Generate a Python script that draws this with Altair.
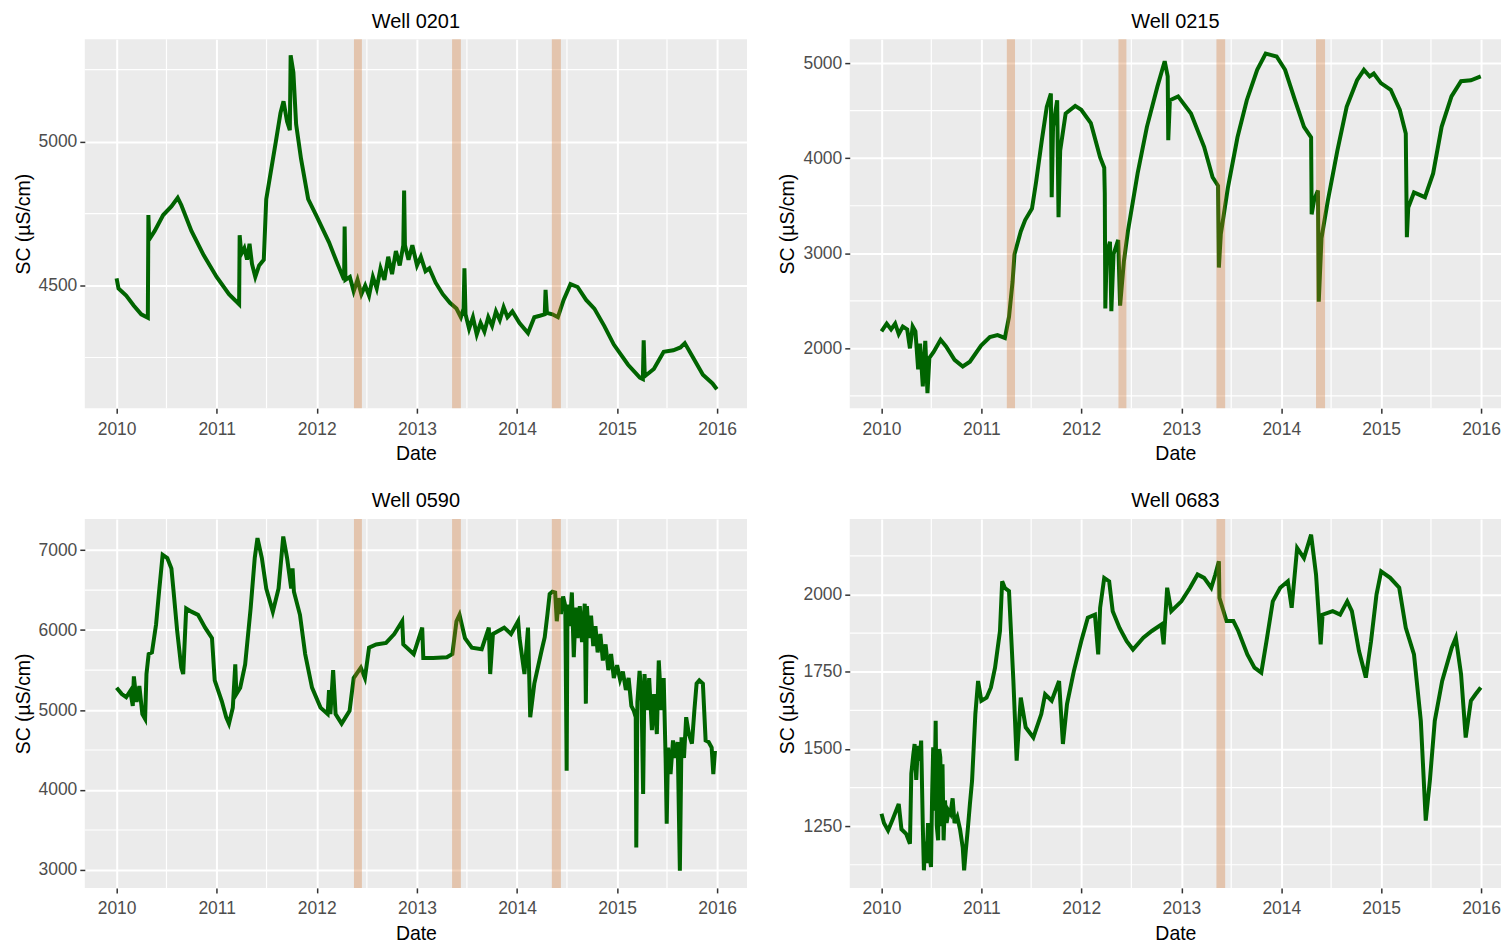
import altair as alt
import pandas as pd

FONT = "Liberation Sans"
GREEN = "#006400"
BAND = "#D2691E"
Y_TITLE = "SC (µS/cm)"

# ---------------- data ----------------
w0201_dates = [
    "2010-01-01", "2010-01-08", "2010-02-05", "2010-03-05", "2010-04-01", "2010-04-25", "2010-04-27", "2010-04-30",
    "2010-05-20", "2010-06-20", "2010-07-20", "2010-08-12", "2010-08-25", "2010-10-01", "2010-11-15", "2011-01-01",
    "2011-02-15", "2011-03-24", "2011-03-26", "2011-04-01", "2011-04-12", "2011-04-22", "2011-05-01", "2011-05-10",
    "2011-05-22", "2011-06-05", "2011-06-22", "2011-07-01", "2011-07-15", "2011-08-05", "2011-08-22", "2011-09-02",
    "2011-09-15", "2011-09-25", "2011-09-28", "2011-10-08", "2011-10-18", "2011-11-05", "2011-12-01", "2012-01-01",
    "2012-02-15", "2012-03-15", "2012-04-10", "2012-04-12", "2012-04-15", "2012-05-01", "2012-05-15", "2012-05-29",
    "2012-06-12", "2012-06-26", "2012-07-10", "2012-07-24", "2012-08-07", "2012-08-21", "2012-09-04", "2012-09-18",
    "2012-10-02", "2012-10-16", "2012-10-30", "2012-11-12", "2012-11-15", "2012-11-18", "2012-12-01", "2012-12-15",
    "2013-01-01", "2013-01-15", "2013-02-01", "2013-02-15", "2013-03-10", "2013-04-05", "2013-05-01", "2013-05-25",
    "2013-06-10", "2013-06-20", "2013-06-23", "2013-06-27", "2013-07-10", "2013-07-24", "2013-08-07", "2013-08-21",
    "2013-09-04", "2013-09-18", "2013-10-02", "2013-10-16", "2013-10-30", "2013-11-13", "2013-11-27", "2013-12-15",
    "2014-01-10", "2014-02-10", "2014-03-05", "2014-03-25", "2014-04-12", "2014-04-15", "2014-04-20", "2014-05-10",
    "2014-05-30", "2014-06-20", "2014-07-15", "2014-08-10", "2014-09-10", "2014-10-10", "2014-11-15", "2014-12-20",
    "2015-02-10", "2015-03-25", "2015-04-05", "2015-04-08", "2015-04-12", "2015-05-15", "2015-06-20", "2015-07-25",
    "2015-08-20", "2015-09-05", "2015-10-05", "2015-11-10", "2015-12-15", "2015-12-31",
]
w0201_sc = [
    4525, 4490, 4465, 4430, 4400, 4388, 4745, 4660,
    4690, 4745, 4775, 4805, 4780, 4690, 4605, 4530,
    4470, 4435, 4675, 4610, 4630, 4590, 4645, 4575,
    4530, 4570, 4590, 4800, 4880, 5000, 5100, 5140,
    5070, 5040, 5300, 5240, 5060, 4940, 4800, 4740,
    4650, 4580, 4520, 4705, 4520, 4530, 4480, 4520,
    4470, 4500, 4465, 4530, 4490, 4560, 4520, 4600,
    4540, 4620, 4570, 4640, 4830, 4640, 4590, 4640,
    4570, 4600, 4550, 4560, 4510, 4470, 4440, 4420,
    4390, 4420, 4560, 4400, 4350, 4390, 4330, 4370,
    4340, 4390, 4360, 4410, 4380, 4425, 4390, 4410,
    4370, 4335, 4390, 4395, 4400, 4485, 4405, 4400,
    4390, 4450, 4505, 4495, 4450, 4420, 4360, 4295,
    4225, 4180, 4175, 4310, 4185, 4210, 4270, 4275,
    4285, 4300, 4250, 4190, 4160, 4140,
]

w0215_dates = [
    "2010-01-01", "2010-01-20", "2010-02-05", "2010-02-20", "2010-03-05", "2010-03-20", "2010-04-05", "2010-04-15",
    "2010-04-25", "2010-05-05", "2010-05-15", "2010-05-22", "2010-06-01", "2010-06-10", "2010-06-18", "2010-06-25",
    "2010-07-10", "2010-08-05", "2010-08-25", "2010-09-25", "2010-10-25", "2010-11-20", "2010-12-31", "2011-02-01",
    "2011-03-01", "2011-03-28", "2011-04-12", "2011-04-25", "2011-05-02", "2011-05-25", "2011-06-10", "2011-07-05",
    "2011-07-20", "2011-08-10", "2011-08-28", "2011-09-12", "2011-09-15", "2011-09-20", "2011-10-05", "2011-10-10",
    "2011-10-16", "2011-11-05", "2011-12-10", "2012-01-01", "2012-02-05", "2012-03-10", "2012-03-25", "2012-03-27",
    "2012-03-29", "2012-04-03", "2012-04-15", "2012-04-20", "2012-04-28", "2012-05-15", "2012-05-22", "2012-06-05",
    "2012-06-20", "2012-07-25", "2012-08-28", "2012-10-05", "2012-11-01", "2012-11-12", "2012-11-14", "2012-11-20",
    "2012-12-20", "2013-02-05", "2013-03-25", "2013-04-25", "2013-05-15", "2013-05-18", "2013-05-25", "2013-06-20",
    "2013-07-25", "2013-08-28", "2013-10-05", "2013-11-05", "2013-12-15", "2014-01-15", "2014-02-20", "2014-03-25",
    "2014-04-20", "2014-04-22", "2014-05-01", "2014-05-15", "2014-05-18", "2014-05-28", "2014-06-20", "2014-07-25",
    "2014-08-28", "2014-10-05", "2014-10-30", "2014-11-20", "2014-12-05", "2014-12-31", "2015-02-05", "2015-03-10",
    "2015-04-01", "2015-04-05", "2015-04-10", "2015-05-01", "2015-06-10", "2015-07-10", "2015-08-10", "2015-09-15",
    "2015-10-20", "2015-11-25", "2015-12-31",
]
w0215_sc = [
    2180, 2260, 2200, 2260, 2150, 2230, 2200, 2000,
    2230, 2180, 1780, 2050, 1600, 2080, 1530, 1900,
    1960, 2090, 2020, 1880, 1810, 1860, 2030, 2120,
    2140, 2110, 2330, 2700, 2990, 3230, 3350, 3470,
    3750, 4190, 4540, 4680, 3590, 4330, 4610, 3380,
    4080, 4470, 4550, 4510, 4370, 4010, 3900, 3630,
    2420, 3000, 3120, 2390, 2990, 3140, 2450, 2920,
    3240, 3840, 4330, 4750, 5020, 4860, 4190, 4610,
    4650, 4470, 4120, 3800, 3710, 2850, 3200, 3690,
    4220, 4610, 4930, 5100, 5070, 4930, 4610, 4330,
    4220, 3410, 3560, 3660, 2490, 3160, 3550, 4080,
    4540, 4820, 4930, 4860, 4890, 4790, 4720, 4510,
    4260, 3170, 3480, 3640, 3590, 3840, 4330, 4650,
    4810, 4820, 4860,
]

w0590_dates = [
    "2010-01-01", "2010-01-20", "2010-02-05", "2010-02-20", "2010-03-01", "2010-03-05", "2010-03-15", "2010-03-25",
    "2010-04-05", "2010-04-15", "2010-04-20", "2010-04-28", "2010-05-10", "2010-05-25", "2010-06-05", "2010-06-18",
    "2010-07-05", "2010-07-20", "2010-07-28", "2010-08-10", "2010-08-25", "2010-09-01", "2010-09-12", "2010-10-01",
    "2010-10-25", "2010-11-20", "2010-12-15", "2010-12-25", "2011-01-20", "2011-02-05", "2011-02-15", "2011-03-01",
    "2011-03-10", "2011-03-14", "2011-03-28", "2011-04-15", "2011-05-05", "2011-05-20", "2011-05-30", "2011-06-15",
    "2011-07-01", "2011-07-25", "2011-08-15", "2011-09-01", "2011-09-15", "2011-09-30", "2011-10-05", "2011-10-10",
    "2011-11-01", "2011-11-20", "2011-12-15", "2012-01-15", "2012-02-10", "2012-02-15", "2012-02-20", "2012-03-01",
    "2012-03-10", "2012-04-01", "2012-04-30", "2012-05-15", "2012-06-10", "2012-06-25", "2012-07-10", "2012-08-05",
    "2012-09-10", "2012-10-10", "2012-11-08", "2012-11-12", "2012-12-20", "2013-01-20", "2013-01-24", "2013-03-01",
    "2013-04-20", "2013-05-10", "2013-05-25", "2013-06-05", "2013-06-25", "2013-07-20", "2013-08-25", "2013-09-20",
    "2013-09-25", "2013-10-05", "2013-11-15", "2013-12-10", "2014-01-05", "2014-01-10", "2014-01-28", "2014-02-10",
    "2014-02-18", "2014-03-05", "2014-04-01", "2014-04-12", "2014-04-22", "2014-04-30", "2014-05-10", "2014-05-20",
    "2014-05-26", "2014-06-02", "2014-06-10", "2014-06-18", "2014-06-26", "2014-07-01", "2014-07-04", "2014-07-12",
    "2014-07-20", "2014-07-27", "2014-08-03", "2014-08-10", "2014-08-18", "2014-08-26", "2014-09-05", "2014-09-09",
    "2014-09-13", "2014-09-20", "2014-09-28", "2014-10-06", "2014-10-14", "2014-10-22", "2014-11-01", "2014-11-10",
    "2014-11-20", "2014-11-30", "2014-12-10", "2014-12-20", "2015-01-01", "2015-01-12", "2015-01-22", "2015-02-02",
    "2015-02-12", "2015-02-22", "2015-03-03", "2015-03-10", "2015-03-12", "2015-03-16", "2015-03-24", "2015-03-31",
    "2015-04-06", "2015-04-11", "2015-04-20", "2015-04-28", "2015-05-08", "2015-05-16", "2015-05-26", "2015-06-02",
    "2015-06-12", "2015-06-20", "2015-06-27", "2015-07-01", "2015-07-06", "2015-07-15", "2015-07-24", "2015-08-02",
    "2015-08-10", "2015-08-18", "2015-08-24", "2015-09-02", "2015-09-10", "2015-09-20", "2015-10-01", "2015-10-10",
    "2015-10-18", "2015-10-28", "2015-11-10", "2015-11-20", "2015-12-01", "2015-12-12", "2015-12-18", "2015-12-24",
]
w0590_sc = [
    5280, 5200, 5160, 5240, 5050, 5420, 5100, 5300,
    4950, 4890, 5450, 5700, 5720, 6070, 6480, 6940,
    6900, 6770, 6480, 5990, 5530, 5450, 6270, 6230,
    6190, 6030, 5900, 5370, 5110, 4910, 4830, 5030,
    5570, 5200, 5280, 5570, 6270, 6900, 7150, 6900,
    6520, 6230, 6520, 7170, 6900, 6520, 6770, 6480,
    6190, 5700, 5280, 5030, 4950, 5250, 4950, 5500,
    4950, 4830, 4990, 5400, 5530, 5400, 5780, 5820,
    5840, 5950, 6110, 5820, 5700, 6030, 5650, 5650,
    5660, 5700, 6110, 6190, 5900, 5780, 5760, 6030,
    5450, 5950, 6030, 5950, 6110, 5900, 5450, 6030,
    4910, 5330, 5750, 5910, 6200, 6450, 6480, 6470,
    6110, 6400, 6200, 6420, 6300, 4240, 6320, 6050,
    6470, 5660, 6280, 5900, 6300, 5850, 6330, 5080,
    6300, 5900, 6180, 5800, 6050, 5720, 5950, 5620,
    5820, 5500, 5700, 5400, 5560, 5380, 5480, 5250,
    5400, 5050, 4990, 4910, 3280, 5100, 5490, 5200,
    3950, 5450, 5000, 5400, 4750, 5200, 4700, 5620,
    5000, 5400, 4400, 3580, 4530, 4200, 4620, 4400,
    4600, 2990, 4660, 4400, 4910, 4700, 4580, 5000,
    5330, 5370, 5330, 4620, 4600, 4530, 4200, 4490,
]

w0683_dates = [
    "2010-01-01", "2010-01-10", "2010-01-25", "2010-02-10", "2010-03-05", "2010-03-15", "2010-04-01", "2010-04-15",
    "2010-04-20", "2010-04-27", "2010-05-02", "2010-05-08", "2010-05-14", "2010-05-20", "2010-05-26", "2010-06-01",
    "2010-06-05", "2010-06-10", "2010-06-15", "2010-06-20", "2010-06-26", "2010-07-01", "2010-07-05", "2010-07-09",
    "2010-07-13", "2010-07-18", "2010-07-22", "2010-07-27", "2010-07-31", "2010-08-04", "2010-08-08", "2010-08-12",
    "2010-08-16", "2010-08-21", "2010-08-27", "2010-09-03", "2010-09-10", "2010-09-18", "2010-09-25", "2010-10-05",
    "2010-10-15", "2010-10-25", "2010-10-30", "2010-11-05", "2010-11-12", "2010-11-20", "2010-11-28", "2010-12-10",
    "2010-12-20", "2011-01-01", "2011-01-20", "2011-02-05", "2011-02-20", "2011-03-10", "2011-03-18", "2011-03-28",
    "2011-04-12", "2011-04-28", "2011-05-10", "2011-05-25", "2011-06-12", "2011-07-10", "2011-08-08", "2011-08-22",
    "2011-09-15", "2011-10-12", "2011-10-26", "2011-11-10", "2011-12-05", "2012-01-01", "2012-01-25", "2012-02-20",
    "2012-03-03", "2012-03-10", "2012-03-25", "2012-04-12", "2012-04-25", "2012-05-20", "2012-06-15", "2012-07-08",
    "2012-08-15", "2012-09-15", "2012-10-20", "2012-10-28", "2012-11-10", "2012-11-25", "2013-01-01", "2013-02-01",
    "2013-03-01", "2013-03-25", "2013-04-20", "2013-05-05", "2013-05-18", "2013-05-20", "2013-06-15", "2013-07-10",
    "2013-07-28", "2013-08-30", "2013-09-25", "2013-10-20", "2013-11-08", "2013-12-01", "2013-12-28", "2014-01-25",
    "2014-02-08", "2014-02-28", "2014-03-25", "2014-04-20", "2014-05-08", "2014-05-25", "2014-06-01", "2014-07-08",
    "2014-08-04", "2014-08-30", "2014-09-16", "2014-10-12", "2014-11-06", "2014-11-25", "2014-12-15", "2015-01-01",
    "2015-02-03", "2015-03-08", "2015-04-01", "2015-05-01", "2015-05-26", "2015-06-13", "2015-06-28", "2015-07-16",
    "2015-08-12", "2015-09-16", "2015-10-01", "2015-10-20", "2015-11-06", "2015-11-25", "2015-12-12", "2015-12-31",
]
w0683_sc = [
    1290, 1260, 1236, 1270, 1322, 1240, 1225, 1193,
    1420, 1480, 1516, 1400, 1510, 1462, 1527, 1250,
    1107, 1200, 1130, 1260, 1150, 1118, 1350, 1505,
    1300, 1591, 1250, 1204, 1500, 1473, 1250, 1450,
    1204, 1333, 1260, 1300, 1290, 1340, 1260, 1280,
    1240, 1180, 1107, 1170, 1236, 1320, 1397, 1613,
    1720, 1656, 1666, 1699, 1763, 1882, 2043, 2021,
    2011, 1720, 1462, 1666, 1570, 1537, 1613, 1677,
    1656, 1720, 1516, 1645, 1752, 1849, 1925, 1935,
    1806, 1957, 2054, 2043, 1946, 1892, 1849, 1822,
    1860, 1882, 1903, 1839, 2022, 1946, 1978, 2021,
    2065, 2054, 2022, 2065, 2108, 1989, 1914, 1914,
    1882, 1806, 1763, 1747, 1849, 1978, 2022, 2043,
    1957, 2151, 2118, 2194, 2065, 1839, 1935, 1946,
    1935, 1978, 1946, 1817, 1731, 1849, 2000, 2075,
    2054, 2022, 1892, 1806, 1591, 1268, 1397, 1591,
    1720, 1828, 1860, 1742, 1537, 1656, 1677, 1699,
]

# shaded periods
bands_a_start = ["2012-05-16", "2013-05-09", "2014-05-08"]
bands_a_end = ["2012-06-14", "2013-06-10", "2014-06-10"]
bands_b_start = ["2011-04-04", "2012-05-16", "2013-05-09", "2014-05-08"]
bands_b_end = ["2011-05-04", "2012-06-14", "2013-06-10", "2014-06-10"]
bands_c_start = ["2013-05-09"]
bands_c_end = ["2013-06-10"]

year_ticks = [2010, 2011, 2012, 2013, 2014, 2015, 2016]
minor_x = ["2010-07-02", "2011-07-02", "2012-07-02", "2013-07-02", "2014-07-02", "2015-07-02"]


def panel(title, dates, values, y_dom, y_major, y_minor, b_start, b_end, x_end, width):
    xs = alt.Scale(domain=[alt.DateTime(year=2009, month=9, date=7), x_end])
    ys = alt.Scale(domain=y_dom, nice=False, zero=False)
    x_axis = alt.Axis(values=[alt.DateTime(year=y, month=1, date=1) for y in year_ticks],
                      format="%Y", title="Date")
    y_axis = alt.Axis(values=y_major, format="d", title=Y_TITLE)

    vgrid = alt.Chart(pd.DataFrame({"date": minor_x})).mark_rule(
        color="white", strokeWidth=1.2).encode(x=alt.X("date:T", scale=xs, axis=x_axis))
    hgrid = alt.Chart(pd.DataFrame({"sc": y_minor})).mark_rule(
        color="white", strokeWidth=1.2).encode(y=alt.Y("sc:Q", scale=ys, axis=y_axis))
    line = alt.Chart(pd.DataFrame({"date": dates, "sc": values})).mark_line(
        color=GREEN, strokeWidth=4).encode(
        x=alt.X("date:T", scale=xs, axis=x_axis),
        y=alt.Y("sc:Q", scale=ys, axis=y_axis))
    bands = alt.Chart(pd.DataFrame({"date": b_start, "end": b_end})).mark_rect(
        color=BAND, opacity=0.3).encode(
        x=alt.X("date:T", scale=xs, axis=x_axis), x2="end:T")
    return alt.layer(vgrid, hgrid, line, bands).properties(
        width=width, height=370, title=title)


left_end = alt.DateTime(year=2016, month=4, date=19)
right_end = alt.DateTime(year=2016, month=3, date=14)

p1 = panel("Well 0201", w0201_dates, w0201_sc, [4074, 5356], [4500, 5000], [4250, 4750, 5250],
           bands_a_start, bands_a_end, left_end, 664)
p2 = panel("Well 0215", w0215_dates, w0215_sc, [1371, 5252], [2000, 3000, 4000, 5000], [1500, 2500, 3500, 4500],
           bands_b_start, bands_b_end, right_end, 653)
p3 = panel("Well 0590", w0590_dates, w0590_sc, [2776, 7390], [3000, 4000, 5000, 6000, 7000],
           [3500, 4500, 5500, 6500], bands_a_start, bands_a_end, left_end, 664)
p4 = panel("Well 0683", w0683_dates, w0683_sc, [1050, 2245], [1250, 1500, 1750, 2000],
           [1125, 1375, 1625, 1875, 2125], bands_c_start, bands_c_end, right_end, 653)

chart = alt.vconcat(
    alt.hconcat(p1, p2, spacing=30),
    alt.hconcat(p3, p4, spacing=30),
    spacing=28,
).properties(
    padding={"left": 5, "top": 2, "right": 0, "bottom": 0}
).configure_view(
    fill="#EBEBEB", stroke=None
).configure_axis(
    domain=False, grid=True, gridColor="white", gridWidth=2,
    tickColor="#333333", tickSize=5, tickWidth=1.5,
    labelColor="#4D4D4D", labelFont=FONT, labelFontSize=17.5,
    titleFont=FONT, titleFontSize=19.5, titleFontWeight="normal", titleColor="black",
).configure_axisX(
    labelPadding=7, titlePadding=7
).configure_axisY(
    labelPadding=3, titlePadding=5
).configure_title(
    font=FONT, fontSize=20, fontWeight="normal", color="black", anchor="middle", offset=7
)

chart.save("out.html", embed_options={"renderer": "svg", "actions": False})
